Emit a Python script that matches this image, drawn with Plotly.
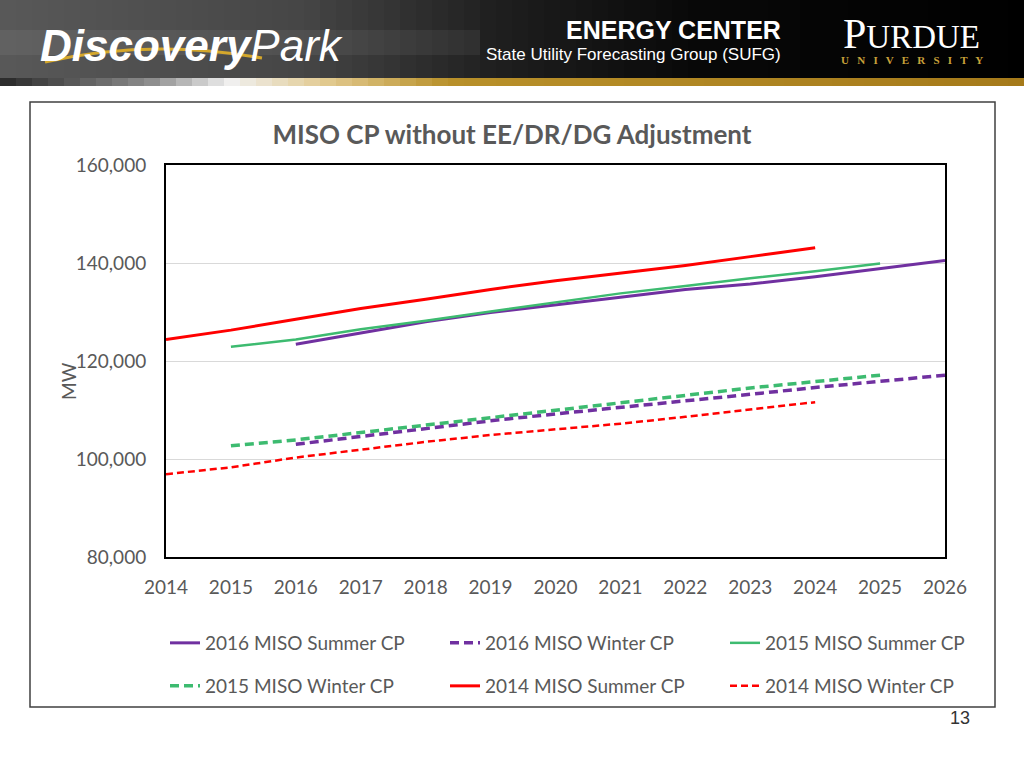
import plotly.graph_objects as go

# ---------------- data ----------------
years_2016 = list(range(2016, 2027))
summer_2016 = [123400, 125700, 128000, 129900, 131400, 133000, 134600, 135700, 137200, 138900, 140500]
winter_2016 = [103000, 104600, 106300, 107800, 109200, 110500, 111800, 113200, 114600, 115900, 117100]

years_2015 = list(range(2015, 2026))
summer_2015 = [122900, 124400, 126500, 128200, 130100, 131900, 133800, 135300, 136900, 138300, 139900]
winter_2015 = [102700, 103900, 105400, 106900, 108500, 110000, 111400, 113000, 114500, 115800, 117100]

years_2014 = list(range(2014, 2025))
summer_2014 = [124400, 126300, 128500, 130700, 132600, 134600, 136400, 137900, 139500, 141300, 143100]
winter_2014 = [96900, 98300, 100300, 101900, 103500, 104900, 106100, 107200, 108600, 110100, 111600]

x_ticks = list(range(2014, 2027))
y_ticks = [80000, 100000, 120000, 140000, 160000]
y_tick_labels = ["80,000", "100,000", "120,000", "140,000", "160,000"]

# ---------------- layout geometry ----------------
W, H = 1024, 768
L, R, T, B = 166, 945, 165, 557


def px(x):
    return (x - L) / (R - L)


def py(y):
    return (B - y) / (B - T)


PURPLE = "#7030a0"
GREEN = "#3dbb70"
RED = "#ff0000"
GRAY = "#595959"
FONT = "Lato"

fig = go.Figure()

fig.add_trace(go.Scatter(x=years_2016, y=summer_2016, mode="lines", name="2016 MISO Summer CP",
                         line=dict(color=PURPLE, width=3), legend="legend"))
fig.add_trace(go.Scatter(x=years_2016, y=winter_2016, mode="lines", name="2016 MISO Winter CP",
                         line=dict(color=PURPLE, width=3.5, dash="9px,5px"), legend="legend2"))
fig.add_trace(go.Scatter(x=years_2015, y=summer_2015, mode="lines", name="2015 MISO Summer CP",
                         line=dict(color=GREEN, width=2.5), legend="legend3"))
fig.add_trace(go.Scatter(x=years_2015, y=winter_2015, mode="lines", name="2015 MISO Winter CP",
                         line=dict(color=GREEN, width=3.5, dash="9px,5px"), legend="legend4"))
fig.add_trace(go.Scatter(x=years_2014, y=summer_2014, mode="lines", name="2014 MISO Summer CP",
                         line=dict(color=RED, width=3), legend="legend5"))
fig.add_trace(go.Scatter(x=years_2014, y=winter_2014, mode="lines", name="2014 MISO Winter CP",
                         line=dict(color=RED, width=2.5, dash="7px,4px"), legend="legend6"))

shapes = []


def lerp(c1, c2, t):
    return tuple(int(round(a + (b - a) * t)) for a, b in zip(c1, c2))


def grad(stops, x):
    for (x1, c1), (x2, c2) in zip(stops[:-1], stops[1:]):
        if x1 <= x <= x2:
            return lerp(c1, c2, (x - x1) / (x2 - x1) if x2 > x1 else 0)
    return stops[-1][1]


top_stops = [(0, (88, 88, 88)), (300, (70, 70, 70)), (500, (30, 30, 30)), (700, (8, 8, 8)), (1024, (0, 0, 0))]
band_stops = [(0, (40, 40, 40)), (150, (140, 140, 140)), (230, (240, 240, 240)), (330, (225, 200, 140)),
              (450, (184, 144, 42)), (1024, (165, 122, 26))]
step = 16
for x0 in range(0, W, step):
    c = grad(top_stops, x0 + step / 2)
    shapes.append(dict(type="rect", xref="paper", yref="paper", x0=px(x0), x1=px(x0 + step),
                       y0=py(0), y1=py(78), fillcolor="rgb(%d,%d,%d)" % c, line=dict(width=0), layer="below"))
    c2 = grad(band_stops, x0 + step / 2)
    shapes.append(dict(type="rect", xref="paper", yref="paper", x0=px(x0), x1=px(x0 + step),
                       y0=py(78), y1=py(86), fillcolor="rgb(%d,%d,%d)" % c2, line=dict(width=0), layer="below"))
# lighter horizontal streak in header
shapes.append(dict(type="rect", xref="paper", yref="paper", x0=px(0), x1=px(480), y0=py(30), y1=py(55),
                   fillcolor="rgba(255,255,255,0.06)", line=dict(width=0), layer="below"))
# gold swoosh
shapes.append(dict(type="path", xref="paper", yref="paper",
                   path="M %f,%f Q %f,%f %f,%f" % (px(45), py(62), px(150), py(38), px(262), py(58)),
                   line=dict(color="#d4a72c", width=3)))
# chart box
shapes.append(dict(type="rect", xref="paper", yref="paper", x0=px(30), x1=px(995), y0=py(102), y1=py(707),
                   line=dict(color="#404040", width=1.5), layer="below"))

annotations = [
    dict(text="<b><i>Discovery</i></b><i>Park</i>", x=px(38), y=py(45), xref="paper", yref="paper",
         xanchor="left", yanchor="middle", showarrow=False,
         font=dict(family="Liberation Sans", size=44, color="white")),
    dict(text="<b>ENERGY CENTER</b>", x=px(783), y=py(30), xref="paper", yref="paper",
         xanchor="right", yanchor="middle", showarrow=False,
         font=dict(family="Liberation Sans", size=25, color="white")),
    dict(text="State Utility Forecasting Group (SUFG)", x=px(783), y=py(54), xref="paper", yref="paper",
         xanchor="right", yanchor="middle", showarrow=False,
         font=dict(family="Liberation Sans", size=17, color="white")),
    dict(text="P<span style='font-size:33px'>URDUE</span>", x=px(911), y=py(34), xref="paper", yref="paper",
         xanchor="center", yanchor="middle", showarrow=False,
         font=dict(family="Liberation Serif", size=42, color="white")),
    dict(text="<b>U   N   I   V   E   R   S   I   T   Y</b>", x=px(912), y=py(60), xref="paper", yref="paper",
         xanchor="center", yanchor="middle", showarrow=False,
         font=dict(family="Liberation Serif", size=11, color="#c9a13a")),
    dict(text="MW", x=px(68), y=py(381), xref="paper", yref="paper", textangle=-90,
         xanchor="center", yanchor="middle", showarrow=False,
         font=dict(family=FONT, size=19, color=GRAY)),
    dict(text="13", x=px(960), y=py(718), xref="paper", yref="paper",
         xanchor="center", yanchor="middle", showarrow=False,
         font=dict(family="Liberation Sans", size=18, color="#333333")),
]

legend_pos = {"legend": (165, 643), "legend2": (445, 643), "legend3": (725, 643),
              "legend4": (165, 686), "legend5": (445, 686), "legend6": (725, 686)}
legend_cfg = {}
for key, (lx, ly) in legend_pos.items():
    legend_cfg[key] = dict(orientation="h", xref="container", yref="container", x=lx / W, y=1 - ly / H,
                           xanchor="left", yanchor="middle",
                           font=dict(family=FONT, size=19, color=GRAY), bgcolor="rgba(0,0,0,0)")

fig.update_layout(
    width=W, height=H,
    margin=dict(l=L, r=W - R, t=T, b=H - B),
    paper_bgcolor="white", plot_bgcolor="white",
    title=dict(text="<b>MISO CP without EE/DR/DG Adjustment</b>", x=512 / W, xref="container",
               y=1 - 135 / H, yref="container", xanchor="center", yanchor="middle",
               font=dict(family=FONT, size=26, color=GRAY)),
    xaxis=dict(range=[2014, 2026], tickvals=x_ticks, ticktext=[str(v) for v in x_ticks],
               showgrid=False, zeroline=False, showline=True, linecolor="black", linewidth=2, mirror=True,
               tickfont=dict(family=FONT, size=19, color=GRAY), ticks="", ticklabelstandoff=12),
    yaxis=dict(range=[80000, 160000], tickvals=y_ticks, ticktext=y_tick_labels,
               showgrid=True, gridcolor="#d9d9d9", gridwidth=1, zeroline=False,
               showline=True, linecolor="black", linewidth=2, mirror=True,
               tickfont=dict(family=FONT, size=19, color=GRAY), ticks="", ticklabelstandoff=14),
    shapes=shapes,
    annotations=annotations,
    showlegend=True,
    **legend_cfg,
)

fig.write_html("out.html", config={"displayModeBar": False},
               post_script="document.body.style.margin='0';")
